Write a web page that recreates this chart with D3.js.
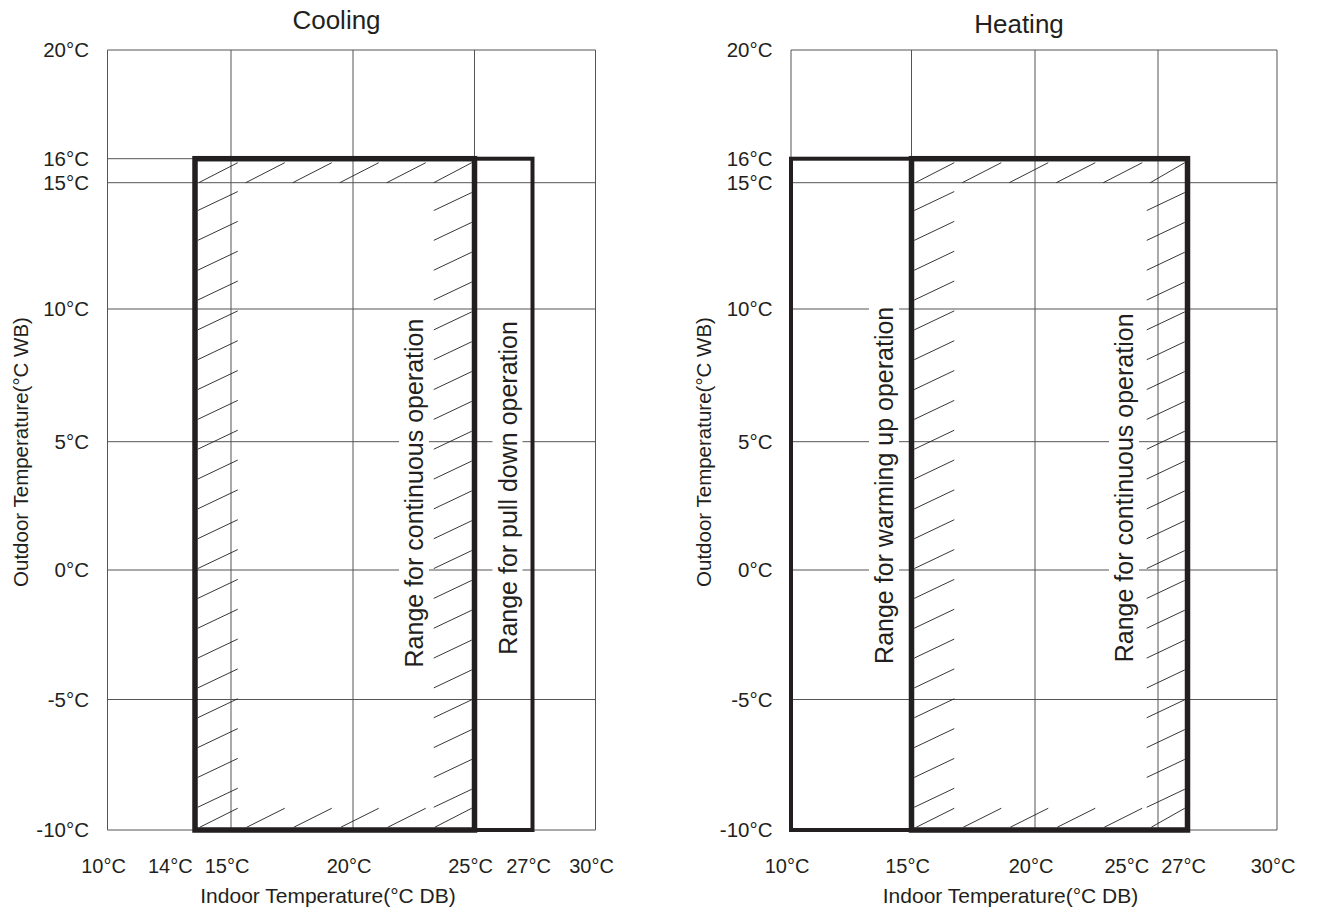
<!DOCTYPE html>
<html><head><meta charset="utf-8">
<script src="https://cdn.jsdelivr.net/npm/d3@7"></script>
<style>
html,body{margin:0;padding:0;background:#fff;}
svg{display:block;font-family:"Liberation Sans",Arial,Helvetica,sans-serif;}
</style></head><body>
<svg id="chart" width="1317" height="909"></svg>
<script>
// ---------------- data ----------------
const yTicks = [20, 16, 15, 10, 5, 0, -5, -10];
const yGridValues = [20, 15, 10, 5, 0, -5, -10];
const xGridValues = [10, 15, 20, 25, 30];
const coolingXTicks = [10, 14, 15, 20, 25, 27, 30];
const heatingXTicks = [10, 15, 20, 25, 27, 30];
// ranges: [indoor min, indoor max, outdoor min, outdoor max]
const coolingContinuous = [14, 25, -10, 16];
const coolingPullDown = [14, 27, -10, 16];
const heatingContinuous = [15, 27, -10, 16];
const heatingWarmUp = [10, 27, -10, 16];
const panelTitles = ["Cooling", "Heating"];
const xAxisTitle = "Indoor Temperature(°C DB)";
const yAxisTitle = "Outdoor Temperature(°C WB)";
const labelContinuous = "Range for continuous operation";
const labelPullDown = "Range for pull down operation";
const labelWarmUp = "Range for warming up operation";
const fmt = v => v + "°C";

// ---------------- drawing ----------------
const svg = d3.select("#chart");
const INK = "#231f20";
const GRID = "#555";

const y = d3.scaleLinear()
  .domain([-10, -5, 0, 5, 10, 15, 16, 20])
  .range([830, 699.5, 570, 441.7, 309, 182.7, 158.7, 50]);

const xCool = d3.scaleLinear()
  .domain([10, 14, 15, 20, 25, 27, 30])
  .range([107.5, 195, 231, 353, 474.5, 532.5, 595.5]);
const xHeat = d3.scaleLinear()
  .domain([10, 15, 20, 25, 27, 30])
  .range([791, 911.5, 1035, 1158, 1187.5, 1277]);

function addBgText(g, txt, size) {
  const t = g.append("text").attr("text-anchor", "middle")
    .attr("font-size", size).attr("fill", INK).text(txt);
  const bb = t.node().getBBox();
  g.insert("rect", "text")
    .attr("x", bb.x - 2).attr("y", bb.y - 1)
    .attr("width", bb.width + 4).attr("height", bb.height + 2)
    .attr("fill", "#fff");
  return t;
}

function drawPanel(cfg) {
  const x = cfg.x;
  const g = svg.append("g");
  const xMin = x.domain()[0], xMax = x.domain()[x.domain().length - 1];

  // grid
  const grid = g.append("g").attr("stroke", GRID).attr("stroke-width", 1).attr("fill", "none");
  grid.selectAll("line.v").data(xGridValues).join("line").attr("class", "v")
    .attr("x1", d => x(d)).attr("x2", d => x(d))
    .attr("y1", y(20)).attr("y2", y(-10));
  grid.selectAll("line.h").data(yGridValues).join("line").attr("class", "h")
    .attr("x1", x(xMin)).attr("x2", x(xMax))
    .attr("y1", d => y(d)).attr("y2", d => y(d));
  // 16°C line from left border up to the operating range
  const leftMost = d3.min(cfg.regions, r => r.rect[0]);
  if (leftMost > xMin) {
    grid.append("line").attr("x1", x(xMin)).attr("x2", x(leftMost))
      .attr("y1", y(16)).attr("y2", y(16));
  }

  // secondary (thin) range boxes
  cfg.regions.filter(r => !r.main).forEach(r => {
    g.append("rect")
      .attr("x", x(r.rect[0])).attr("y", y(r.rect[3]))
      .attr("width", x(r.rect[1]) - x(r.rect[0]))
      .attr("height", y(r.rect[2]) - y(r.rect[3]))
      .attr("fill", "none").attr("stroke", INK).attr("stroke-width", 4);
  });

  // hatching inside main range
  const main = cfg.regions.find(r => r.main).rect;
  const L = x(main[0]) + 2.75, R = x(main[1]) - 2.75, T = y(main[3]) + 2.75, B = y(main[2]) - 2.75;
  const segs = [];
  const topBase = y(15);
  for (let k = 0; k < 6; k++) {
    const xs = L + 1 + k * 47;
    segs.push([xs, topBase, Math.min(xs + 39, R), topBase - 20]);
    const xb = L + 2 + k * 47;
    segs.push([xb, B, Math.min(xb + 38, R), B - 19]);
  }
  const sideTop = topBase - 2, sideBottom = B - 20, nSide = 21;
  for (let i = 1; i <= nSide; i++) {
    const yb = sideTop + i * (sideBottom - sideTop) / nSide;
    segs.push([L, yb, L + 40, yb - 19]);
    segs.push([R - 38, yb, R, yb - 18]);
  }
  g.append("g").attr("stroke", INK).attr("stroke-width", 0.9)
    .selectAll("line").data(segs).join("line")
    .attr("x1", d => d[0]).attr("y1", d => d[1])
    .attr("x2", d => d[2]).attr("y2", d => d[3]);

  // main thick box
  g.append("rect")
    .attr("x", x(main[0])).attr("y", y(main[3]))
    .attr("width", x(main[1]) - x(main[0]))
    .attr("height", y(main[2]) - y(main[3]))
    .attr("fill", "none").attr("stroke", INK).attr("stroke-width", 5.5);

  // vertical range labels
  cfg.labels.forEach(lb => {
    const lg = g.append("g")
      .attr("transform", `translate(${x(lb.at) + lb.dx},${y(lb.yAt)}) rotate(-90)`);
    addBgText(lg, lb.text, 25);
  });

  // y tick labels
  g.append("g").selectAll("text").data(yTicks).join("text")
    .attr("x", x(xMin) - 18.5).attr("y", d => y(d)).attr("dy", "0.35em")
    .attr("text-anchor", "end").attr("font-size", 20.5).attr("fill", INK)
    .text(fmt);

  // x tick labels with simple collision handling
  const xt = g.append("g").selectAll("text").data(cfg.xTicks).join("text")
    .attr("y", 873).attr("text-anchor", "middle").attr("font-size", 20).attr("fill", INK)
    .text(fmt);
  const widths = xt.nodes().map(n => n.getComputedTextLength());
  const centers = cfg.xTicks.map(v => x(v) - 4);
  for (let i = centers.length - 2; i >= 0; i--) {
    const limit = centers[i + 1] - widths[i + 1] / 2 - 12;
    if (centers[i] + widths[i] / 2 > limit) centers[i] = limit - widths[i] / 2;
  }
  xt.attr("x", (d, i) => centers[i]);

  const cx = (x(xMin) + x(xMax)) / 2;
  // title
  g.append("text").attr("x", cx - 15).attr("y", cfg.titleY)
    .attr("text-anchor", "middle").attr("font-size", 26).attr("fill", INK).text(cfg.title);
  // axis titles
  g.append("text").attr("x", cx - 23.5).attr("y", 903)
    .attr("text-anchor", "middle").attr("font-size", 21).attr("fill", INK).text(xAxisTitle);
  g.append("text")
    .attr("transform", `translate(${x(xMin) - 80},452) rotate(-90)`)
    .attr("text-anchor", "middle").attr("font-size", 20.5).attr("fill", INK).text(yAxisTitle);
}

drawPanel({
  x: xCool, xTicks: coolingXTicks, title: panelTitles[0], titleY: 29,
  regions: [{ rect: coolingPullDown, main: false }, { rect: coolingContinuous, main: true }],
  labels: [
    { text: labelContinuous, at: coolingContinuous[1], dx: -51.5, yAt: 3 },
    { text: labelPullDown, at: coolingPullDown[1], dx: -16, yAt: 3.2 }
  ]
});
drawPanel({
  x: xHeat, xTicks: heatingXTicks, title: panelTitles[1], titleY: 33,
  regions: [{ rect: heatingWarmUp, main: false }, { rect: heatingContinuous, main: true }],
  labels: [
    { text: labelWarmUp, at: heatingContinuous[0], dx: -18.5, yAt: 3.3 },
    { text: labelContinuous, at: heatingContinuous[1], dx: -54.5, yAt: 3.2 }
  ]
});
</script>
</body></html>
